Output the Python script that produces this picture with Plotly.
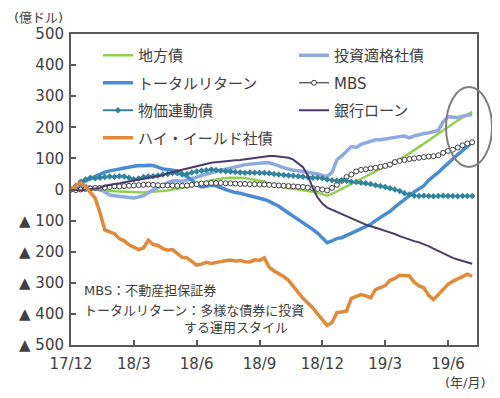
import plotly.graph_objects as go
import pandas as pd

# weekly observation dates (x categories)
dates = pd.date_range("2017-12-29", periods=84, freq="7D")

tick_vals = ["2017-12-29", "2018-03-30", "2018-06-29", "2018-09-28",
             "2018-12-28", "2019-03-29", "2019-06-28"]
tick_text = ["17/12", "18/3", "18/6", "18/9", "18/12", "19/3", "19/6"]

y_tick_vals = [500, 400, 300, 200, 100, 0, -100, -200, -300, -400, -500]
y_tick_text = ["500", "400", "300", "200", "100", "0",
               "▲ 100", "▲ 200", "▲ 300", "▲ 400", "▲ 500"]

# series (億ドル, cumulative flows)
municipal = [0, 2, 3, 2, 0, -2, -3, -4, -5, -6,
             -5, -6, -8, -10, -11, -10, -8, -7, -5, -5,
             -3, 0, 2, 4, 6, 10, 15, 20, 26, 30,
             32, 35, 37, 38, 38, 38, 37, 34, 32, 30,
             26, 18, 14, 10, 8, 4, 2, 0, -2, -5,
             -7, -10, -15, -20, -14, -6, 2, 10, 18, 27,
             35, 43, 50, 58, 66, 74, 81, 89, 97, 106,
             116, 126, 137, 148, 158, 169, 180, 191, 201, 212,
             222, 232, 242, 250]

investment_grade = [0, 5, 10, 12, 8, 3, 0, -8, -18, -20,
                    -22, -24, -27, -27, -24, -20, -10, -2, 5, 15,
                    22, 27, 28, 26, 30, 36, 40, 45, 50, 55,
                    58, 62, 65, 68, 72, 76, 80, 82, 84, 86,
                    86, 86, 82, 76, 70, 65, 62, 60, 58, 56,
                    54, 50, 45, 42, 55, 95, 108, 125, 138, 135,
                    145, 150, 155, 160, 160, 163, 165, 168, 170, 172,
                    166, 172, 177, 180, 182, 185, 190, 218, 234, 233,
                    231, 236, 238, 241]

total_return = [0, 8, 18, 28, 35, 42, 52, 56, 60, 63,
                68, 70, 73, 75, 77, 76, 78, 77, 72, 66,
                64, 62, 60, 52, 42, 30, 15, 8, 10, 14,
                12, 5, 0, -5, -10, -12, -16, -18, -24, -28,
                -32, -38, -45, -54, -65, -75, -86, -95, -105, -118,
                -128, -140, -155, -171, -165, -158, -155, -148, -140, -135,
                -128, -122, -112, -100, -90, -82, -70, -57, -45, -30,
                -18, -8, 2, 12, 30, 42, 55, 70, 85, 98,
                112, 125, 140, 152]

mbs = [0, -2, 0, 2, 3, 5, 5, 6, 8, 10,
       10, 11, 12, 13, 14, 15, 16, 15, 14, 13,
       13, 13, 12, 12, 13, 15, 17, 19, 20, 21,
       21, 21, 20, 20, 19, 18, 18, 17, 17, 16,
       16, 15, 14, 13, 12, 11, 10, 9, 8, 6,
       4, 2, 0, -3, 5, 15, 28, 40, 48, 58,
       63, 65, 68, 70, 73, 76, 80, 88, 92, 95,
       98, 100, 102, 104, 106, 107, 110, 118, 124, 128,
       135, 142, 148, 152]

inflation_linked = [0, 12, 25, 32, 38, 36, 38, 40, 42, 40,
                    43, 42, 38, 33, 35, 40, 42, 43, 45, 48,
                    50, 53, 52, 48, 50, 55, 58, 60, 62, 64,
                    63, 60, 59, 58, 56, 55, 54, 55, 54, 54,
                    54, 52, 50, 48, 47, 45, 44, 43, 41, 39,
                    38, 38, 36, 32, 30, 28, 30, 28, 25, 24,
                    22, 20, 18, 14, 11, 8, 4, 0, -5, -12,
                    -16, -20, -21, -20, -21, -22, -21, -20, -21, -21,
                    -22, -21, -21, -21]

bank_loan = [0, -2, -3, 0, 2, 3, 5, 12, 16, 18,
             20, 23, 26, 28, 31, 34, 37, 40, 42, 46,
             52, 56, 60, 64, 68, 72, 75, 79, 82, 86,
             88, 90, 91, 92, 94, 95, 97, 100, 103, 105,
             107, 108, 108, 106, 104, 102, 96, 85, 72, 45,
             5, -25, -45, -58, -65, -72, -78, -85, -92, -100,
             -108, -113, -118, -122, -128, -133, -137, -143, -150, -156,
             -160, -166, -170, -175, -182, -190, -198, -205, -213, -220,
             -225, -230, -235, -239]

high_yield = [0, 12, 22, 10, -8, -28, -75, -130, -136, -142,
              -158, -165, -178, -186, -193, -188, -163, -177, -180, -190,
              -195, -193, -205, -218, -220, -230, -243, -240, -234, -238,
              -236, -232, -229, -227, -230, -228, -232, -233, -226, -228,
              -220, -250, -262, -270, -280, -292, -312, -330, -350, -365,
              -380, -400, -420, -437, -428, -396, -394, -391, -350, -345,
              -338, -342, -348, -322, -314, -309, -292, -286, -276, -276,
              -278, -298, -310, -316, -340, -354, -338, -325, -305, -295,
              -289, -280, -272, -279]

FONT = "DejaVu Sans, Noto Sans CJK JP, sans-serif"
TXT = "#404040"
AX = "#595959"

fig = go.Figure()

def add(name, y, color, width, legend, marker=None):
    kw = dict(x=dates, y=y, name=name, legend=legend, legendgroup=name,
              line=dict(color=color, width=width))
    if marker is None:
        kw["mode"] = "lines"
    else:
        kw["mode"] = "lines+markers"
        kw["marker"] = marker
    fig.add_trace(go.Scatter(**kw))

add("地方債", municipal, "#92D050", 2.5, "legend")
add("投資適格社債", investment_grade, "#8FAADC", 3.5, "legend2")
add("トータルリターン", total_return, "#4A8CD3", 3.5, "legend")
add("MBS", mbs, "#404040", 1.2, "legend2",
    marker=dict(symbol="circle", size=5, color="white",
                line=dict(color="#404040", width=1)))
add("物価連動債", inflation_linked, "#31849B", 2, "legend",
    marker=dict(symbol="diamond", size=5, color="#31849B"))
add("銀行ローン", bank_loan, "#4A3B6A", 2, "legend2")
add("ハイ・イールド社債", high_yield, "#E08A3B", 3.5, "legend")

leg_common = dict(bgcolor="rgba(0,0,0,0)", font=dict(size=15, color=TXT, family=FONT),
                  traceorder="grouped", tracegroupgap=5, xanchor="left", yanchor="top")

# plot area on screen (page has an 8px body margin)
L, T, W, H = 71, 34, 406, 311
OFF = 8

def px(x):
    return (x - L) / W

def py(y):
    return 1 - (y - T) / H

fig.update_layout(
    width=500 - OFF, height=398 - OFF,
    margin=dict(l=L - OFF, r=500 - L - W, t=T - OFF, b=398 - T - H),
    paper_bgcolor="white", plot_bgcolor="white",
    font=dict(family=FONT, color=TXT, size=15),
    legend=dict(x=px(98), y=py(39), **leg_common),
    legend2=dict(x=px(294), y=py(39), **leg_common),
    xaxis=dict(type="date", range=["2017-12-29", "2019-08-09"],
               tickvals=tick_vals, ticktext=tick_text,
               ticks="inside", ticklen=5, tickwidth=1.5, tickcolor=AX,
               showline=True, linecolor=AX, linewidth=2, mirror=True,
               showgrid=False, zeroline=False, automargin=False,
               tickfont=dict(size=15, color=TXT), ticklabelstandoff=4),
    yaxis=dict(range=[-500, 500], tickvals=y_tick_vals, ticktext=y_tick_text,
               ticks="inside", ticklen=5, tickwidth=1.5, tickcolor=AX,
               showline=True, linecolor=AX, linewidth=2, mirror=True,
               showgrid=False, zeroline=False, automargin=False,
               tickfont=dict(size=15, color=TXT), ticklabelstandoff=2),
    shapes=[dict(type="circle", xref="paper", yref="paper",
                 x0=px(446), x1=px(492), y0=py(167), y1=py(87),
                 line=dict(color="#7F7F7F", width=2))],
    annotations=[
        dict(text="(億ドル)", xref="paper", yref="paper", x=px(38), y=py(8),
             xanchor="center", yanchor="top",
             showarrow=False, font=dict(size=13, color=TXT)),
        dict(text="(年/月)", xref="paper", yref="paper", x=px(465), y=py(383),
             xanchor="center", yanchor="middle",
             showarrow=False, font=dict(size=13, color=TXT)),
        dict(text="MBS：不動産担保証券", xref="paper", yref="paper",
             x=px(82), y=py(290), xanchor="left", yanchor="middle",
             showarrow=False, font=dict(size=13, color=TXT)),
        dict(text="トータルリターン：多様な債券に投資", xref="paper", yref="paper",
             x=px(82), y=py(310), xanchor="left", yanchor="middle",
             showarrow=False, font=dict(size=13, color=TXT)),
        dict(text="する運用スタイル", xref="paper", yref="paper",
             x=px(182), y=py(327), xanchor="left", yanchor="middle",
             showarrow=False, font=dict(size=13, color=TXT)),
    ],
)

fig.write_html("out.html")
